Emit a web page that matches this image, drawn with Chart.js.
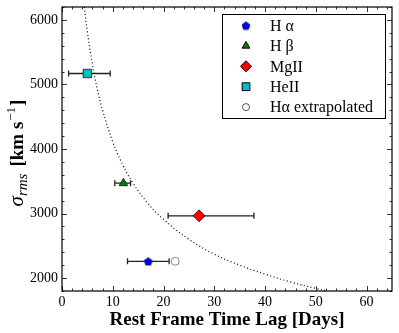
<!DOCTYPE html>
<html>
<head>
<meta charset="utf-8">
<script src="https://cdn.jsdelivr.net/npm/chart.js@4/dist/chart.umd.min.js"></script>
<style>
  html, body { margin: 0; padding: 0; background: #fff; }
</style>
</head>
<body>
<canvas id="lagChart" width="399" height="333"></canvas>
<script>
// emission lines and their measurements
const lineNames = ['H α', 'H β', 'MgII', 'HeII', 'Hα extrapolated'];
const lagDays = [17.0, 12.1, 27.0, 5.0, 22.3];
const sigmaRms = [2260, 3470, 2965, 5170, 2260];
const lagLow = [12.9, 10.4, 20.9, 1.3, null];
const lagHigh = [21.1, 13.5, 37.8, 9.5, null];

// dotted virial relation
const curveLag = [4.4, 5, 6, 7, 8, 10, 12, 14, 17, 20, 25, 30, 35, 40, 45, 50, 52.2];
const curveSigma = [6200, 5810, 5310, 4910, 4600, 4110, 3750, 3470, 3150, 2910, 2600, 2370, 2200, 2060, 1940, 1840, 1800];

const xTicks = [0, 10, 20, 30, 40, 50, 60];
const yTicks = [2000, 3000, 4000, 5000, 6000];

const SERIF = '"Liberation Serif", "DejaVu Serif", serif';

function pentagon(size, fill) {
    const c = document.createElement('canvas');
    c.width = size; c.height = size;
    const g = c.getContext('2d');
    const r = size / 2 - 0.8;
    g.beginPath();
    for (let i = 0; i < 5; i++) {
        const a = -Math.PI / 2 + i * 2 * Math.PI / 5;
        const px = size / 2 + r * Math.cos(a), py = size / 2 + r * Math.sin(a) + 0.5;
        if (i === 0) g.moveTo(px, py); else g.lineTo(px, py);
    }
    g.closePath();
    g.fillStyle = fill; g.fill();
    g.lineWidth = 0.6; g.strokeStyle = '#000'; g.stroke();
    return c;
}

const styles = [
    { pointStyle: pentagon(10, '#0000ff'), radius: 5, fill: '#0000ff', edge: '#000' },
    { pointStyle: 'triangle', radius: 5, fill: '#008000', edge: '#000' },
    { pointStyle: 'rectRot', radius: 6, fill: '#ff0000', edge: '#000' },
    { pointStyle: 'rect', radius: 6, fill: '#00bfbf', edge: '#000' },
    { pointStyle: 'circle', radius: 4, fill: '#ffffff', edge: '#555' }
];

const pointSets = lineNames.map((name, i) => ({
    type: 'scatter',
    label: name,
    data: [{ x: lagDays[i], y: sigmaRms[i] }],
    errLo: lagLow[i],
    errHi: lagHigh[i],
    pointStyle: styles[i].pointStyle,
    pointRadius: styles[i].radius,
    pointBackgroundColor: styles[i].fill,
    pointBorderColor: styles[i].edge,
    pointBorderWidth: 0.7,
    order: 1
}));

const curveSet = {
    type: 'line',
    label: 'curve',
    data: curveLag.map((x, i) => ({ x: x, y: curveSigma[i] })),
    borderColor: '#000',
    borderWidth: 1.2,
    borderDash: [1, 2.5],
    pointRadius: 0,
    tension: 0.4,
    fill: false,
    order: 2
};

const decor = {
    id: 'decor',
    beforeDatasetsDraw(chart) {
        // horizontal error bars
        const ctx = chart.ctx, xs = chart.scales.x, ys = chart.scales.y;
        ctx.save();
        ctx.strokeStyle = '#222';
        ctx.lineWidth = 1.3;
        chart.data.datasets.forEach(ds => {
            if (ds.errLo == null) return;
            const y = ys.getPixelForValue(ds.data[0].y);
            const x1 = xs.getPixelForValue(ds.errLo), x2 = xs.getPixelForValue(ds.errHi);
            ctx.beginPath();
            ctx.moveTo(x1, y); ctx.lineTo(x2, y);
            ctx.moveTo(x1, y - 3); ctx.lineTo(x1, y + 3);
            ctx.moveTo(x2, y - 3); ctx.lineTo(x2, y + 3);
            ctx.stroke();
        });
        ctx.restore();
    },
    afterDraw(chart) {
        const ctx = chart.ctx, a = chart.chartArea, xs = chart.scales.x, ys = chart.scales.y;
        ctx.save();
        // frame
        ctx.strokeStyle = '#000';
        ctx.lineWidth = 1.2;
        ctx.strokeRect(a.left, a.top, a.right - a.left, a.bottom - a.top);
        // inward ticks on all sides
        ctx.lineWidth = 0.8;
        ctx.beginPath();
        for (let v = xs.min; v <= xs.max; v += 2) {
            const px = Math.round(xs.getPixelForValue(v)) + 0.5;
            const len = xTicks.includes(v) ? 5 : 2.5;
            ctx.moveTo(px, a.bottom); ctx.lineTo(px, a.bottom - len);
            ctx.moveTo(px, a.top); ctx.lineTo(px, a.top + len);
        }
        for (let v = ys.min; v <= ys.max; v += 200) {
            const py = Math.round(ys.getPixelForValue(v)) + 0.5;
            const len = yTicks.includes(v) ? 5 : 2.5;
            ctx.moveTo(a.left, py); ctx.lineTo(a.left + len, py);
            ctx.moveTo(a.right, py); ctx.lineTo(a.right - len, py);
        }
        ctx.stroke();

        // x title
        ctx.fillStyle = '#000';
        ctx.font = 'bold 19px ' + SERIF;
        ctx.textAlign = 'center';
        ctx.textBaseline = 'alphabetic';
        ctx.fillText('Rest Frame Time Lag [Days]', (a.left + a.right) / 2, 325);

        // y title with sub/superscript
        ctx.save();
        ctx.translate(23, 153);
        ctx.rotate(-Math.PI / 2);
        const parts = [
            { t: 'σ', f: 'italic 21px ' + SERIF, dy: 0, gap: 0 },
            { t: 'rms', f: 'italic 15px ' + SERIF, dy: 4, gap: 0 },
            { t: '[km s', f: 'bold 19px ' + SERIF, dy: 0, gap: 7 },
            { t: '−1', f: '13px ' + SERIF, dy: -8, gap: 1 },
            { t: ']', f: 'bold 19px ' + SERIF, dy: 0, gap: 1 }
        ];
        let total = 0;
        parts.forEach(p => { ctx.font = p.f; p.w = ctx.measureText(p.t).width; total += p.w + p.gap; });
        let cx = -total / 2;
        ctx.textAlign = 'left';
        parts.forEach(p => { ctx.font = p.f; cx += p.gap; ctx.fillText(p.t, cx, p.dy); cx += p.w; });
        ctx.restore();

        // legend box
        const bx = 222, by = 14, bw = 163, bh = 104;
        ctx.fillStyle = '#fff';
        ctx.fillRect(bx, by, bw, bh);
        ctx.strokeStyle = '#000';
        ctx.lineWidth = 1;
        ctx.strokeRect(bx + 0.5, by + 0.5, bw, bh);
        ctx.font = '16px ' + SERIF;
        ctx.textAlign = 'left';
        ctx.textBaseline = 'middle';
        lineNames.forEach((name, i) => {
            const ry = 25.5 + i * 20.4;
            const st = styles[i];
            ctx.fillStyle = st.fill;
            ctx.strokeStyle = st.edge;
            Chart.helpers.drawPoint(ctx, { pointStyle: st.pointStyle, radius: st.radius - 0.5, borderWidth: 0.7, rotation: 0 }, 246, ry);
            ctx.fillStyle = '#000';
            ctx.fillText(name, 270, ry + 1);
        });
        ctx.restore();
    }
};

new Chart(document.getElementById('lagChart').getContext('2d'), {
    type: 'scatter',
    data: { datasets: [curveSet].concat(pointSets) },
    options: {
        responsive: false,
        animation: false,
        layout: { padding: { top: 7, right: 7, left: 0, bottom: 0 } },
        plugins: { legend: { display: false }, tooltip: { enabled: false } },
        scales: {
            x: {
                type: 'linear',
                min: 0,
                max: 65,
                grid: { display: false, drawTicks: false },
                border: { display: false },
                ticks: { color: '#000', padding: 3, font: { family: SERIF, size: 14 }, callback: v => String(v) },
                afterBuildTicks: s => { s.ticks = xTicks.map(v => ({ value: v })); },
                afterFit: s => { s.height = 42; s.paddingLeft = 0; s.paddingRight = 0; }
            },
            y: {
                type: 'linear',
                min: 1800,
                max: 6200,
                grid: { display: false, drawTicks: false },
                border: { display: false },
                ticks: { color: '#000', padding: 4, font: { family: SERIF, size: 14 }, callback: v => String(v) },
                afterBuildTicks: s => { s.ticks = yTicks.map(v => ({ value: v })); },
                afterFit: s => { s.width = 62; s.paddingTop = 0; s.paddingBottom = 0; }
            }
        }
    },
    plugins: [decor]
});
</script>
</body>
</html>
